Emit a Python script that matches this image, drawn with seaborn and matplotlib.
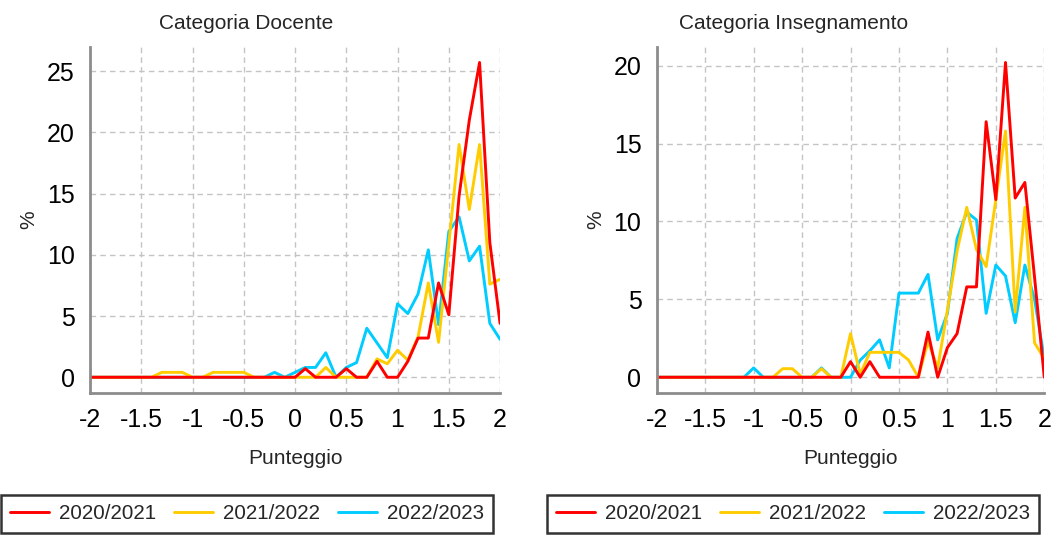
import matplotlib
matplotlib.use("Agg")
import matplotlib.pyplot as plt
import seaborn as sns
import pandas as pd

# score bins from -2 to 2
scores = [-2.0, -1.9, -1.8, -1.7, -1.6, -1.5, -1.4, -1.3, -1.2, -1.1,
          -1.0, -0.9, -0.8, -0.7, -0.6, -0.5, -0.4, -0.3, -0.2, -0.1,
          0.0, 0.1, 0.2, 0.3, 0.4, 0.5, 0.6, 0.7, 0.8, 0.9,
          1.0, 1.1, 1.2, 1.3, 1.4, 1.5, 1.6, 1.7, 1.8, 1.9, 2.0]

years = ["2020/2021", "2021/2022", "2022/2023"]
colors = ["#FF0000", "#FFCC00", "#00CCFF"]

# Categoria Docente (%)
doc_2021 = [0, 0, 0, 0, 0, 0, 0, 0, 0, 0,
            0, 0, 0, 0, 0, 0, 0, 0, 0, 0,
            0, 0.7, 0, 0, 0, 0.7, 0, 0, 1.3, 0,
            0, 1.3, 3.2, 3.2, 7.7, 5.1, 14.8, 21.0, 25.7, 11.0, 4.4]
doc_2122 = [0, 0, 0, 0, 0, 0, 0, 0.4, 0.4, 0.4,
            0, 0, 0.4, 0.4, 0.4, 0.4, 0, 0, 0, 0,
            0, 0, 0, 0.8, 0, 0, 0, 0, 1.5, 1.1,
            2.2, 1.4, 3.3, 7.7, 2.85, 10.9, 19.0, 13.7, 19.0, 7.6, 8.0]
doc_2223 = [0, 0, 0, 0, 0, 0, 0, 0, 0, 0,
            0, 0, 0, 0, 0, 0, 0, 0, 0.4, 0,
            0.4, 0.8, 0.8, 2.0, 0, 0.8, 1.2, 4.0, 2.8, 1.6,
            6.0, 5.2, 6.8, 10.4, 4.3, 11.9, 13.1, 9.5, 10.7, 4.4, 3.1]

# Categoria Insegnamento (%)
ins_2021 = [0, 0, 0, 0, 0, 0, 0, 0, 0, 0,
            0, 0, 0, 0, 0, 0, 0, 0, 0, 0,
            1.0, 0, 1.0, 0, 0, 0, 0, 0, 2.9, 0,
            1.9, 2.8, 5.8, 5.8, 16.4, 11.4, 20.2, 11.5, 12.5, 6.4, 0]
ins_2122 = [0, 0, 0, 0, 0, 0, 0, 0, 0, 0,
            0, 0, 0, 0.55, 0.55, 0, 0, 0.55, 0, 0,
            2.8, 0.2, 1.6, 1.6, 1.6, 1.6, 1.1, 0, 2.3, 0.6,
            4.3, 8.1, 10.9, 8.2, 7.1, 11.4, 15.8, 4.2, 10.9, 2.2, 1.2]
ins_2223 = [0, 0, 0, 0, 0, 0, 0, 0, 0, 0,
            0.6, 0, 0, 0, 0, 0, 0, 0.6, 0, 0,
            0, 1.1, 1.7, 2.4, 0.6, 5.4, 5.4, 5.4, 6.6, 2.4,
            4.1, 8.9, 10.6, 10.1, 4.1, 7.2, 6.5, 3.5, 7.2, 5.0, 1.2]

panels = [
    ("Categoria Docente", [doc_2021, doc_2122, doc_2223]),
    ("Categoria Insegnamento", [ins_2021, ins_2122, ins_2223]),
]

sns.set_style("white")
plt.rcParams["font.family"] = ["Liberation Sans", "DejaVu Sans"]

fig = plt.figure(figsize=(10.53, 5.36), dpi=100)
axes = [fig.add_axes([0.0855, 0.2668, 0.3894, 0.646]),
        fig.add_axes([0.6237, 0.2668, 0.3680, 0.646])]
title_x = [0.2335, 0.7536]
legend_x = [0.2346, 0.7531]

for ax, (title, series), tx, lx in zip(axes, panels, title_x, legend_x):
    df = pd.DataFrame({"score": scores})
    for year, vals in zip(years, series):
        df[year] = vals
    # draw cyan first so red ends up on top
    for i in [2, 1, 0]:
        sns.lineplot(data=df, x="score", y=years[i], color=colors[i],
                     linewidth=2.1, label=years[i], ax=ax, legend=False)
    ax.set_xlim(-2, 2)
    ax.set_xticks([-2, -1.5, -1, -0.5, 0, 0.5, 1, 1.5, 2])
    ax.set_xticklabels(["-2", "-1.5", "-1", "-0.5", "0", "0.5", "1", "1.5", "2"])
    ax.grid(True, linestyle=(0, (4, 3)), color="#c4c4c4", linewidth=1.0)
    for s in ["top", "right"]:
        ax.spines[s].set_visible(False)
    for s in ["left", "bottom"]:
        ax.spines[s].set_color("#8c8c8c")
        ax.spines[s].set_linewidth(2)
    ax.tick_params(axis="both", labelsize=18, colors="#8c8c8c",
                   labelcolor="black", length=4, width=1.5, pad=7)
    ax.set_xlabel("Punteggio", fontsize=15, labelpad=12)
    ax.set_ylabel("%", fontsize=15, labelpad=6)
    fig.text(tx, 0.957, title, fontsize=15, ha="center", va="center")

    handles, labels = ax.get_legend_handles_labels()
    order = [2, 1, 0]
    leg = ax.legend([handles[j] for j in order], [labels[j] for j in order],
                    loc="center", ncol=3,
                    bbox_to_anchor=(lx, 0.0415), bbox_transform=fig.transFigure,
                    fontsize=14.8, frameon=True, fancybox=False,
                    handlelength=1.9, handletextpad=0.5, columnspacing=0.85,
                    borderpad=0.45, borderaxespad=0)
    leg.get_frame().set_edgecolor("black")
    leg.get_frame().set_linewidth(1.8)

fig.savefig("out.png", dpi=100)
